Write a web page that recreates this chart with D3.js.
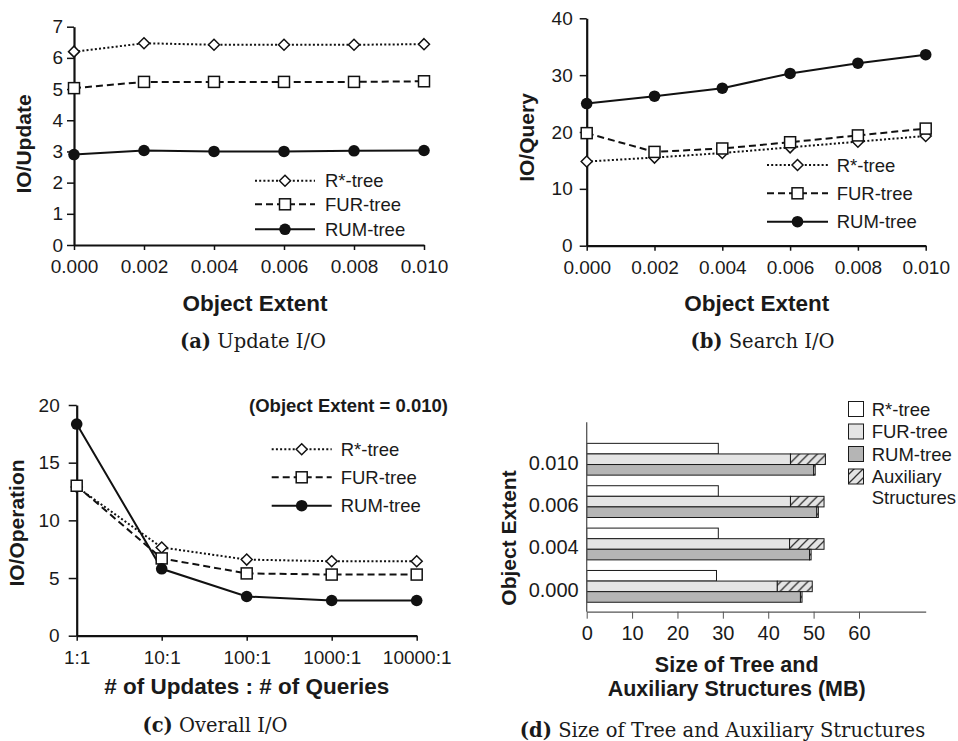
<!DOCTYPE html>
<html>
<head>
<meta charset="utf-8">
<script src="https://cdn.jsdelivr.net/npm/d3@7"></script>
<style>
  html, body { margin: 0; padding: 0; background: #fff; }
  svg { display: block; }
  text { font-family: "Liberation Sans", Arial, sans-serif; fill: #1a1a1a; }
  .cap { font-family: "DejaVu Serif", "Liberation Serif", serif; }
</style>
</head>
<body>
<svg id="chart" width="958" height="741"></svg>
<script>
// ---------------- DATA ----------------
const seriesNames = ["R*-tree", "FUR-tree", "RUM-tree"];

const extents = [0.000, 0.002, 0.004, 0.006, 0.008, 0.010];
const updateRstar = [6.20, 6.47, 6.42, 6.42, 6.42, 6.44];
const updateFur   = [5.03, 5.23, 5.23, 5.23, 5.23, 5.25];
const updateRum   = [2.90, 3.03, 3.00, 3.00, 3.02, 3.03];
const updateTicks = [0, 1, 2, 3, 4, 5, 6, 7];

const queryRstar = [14.8, 15.5, 16.3, 17.3, 18.3, 19.3];
const queryFur   = [19.8, 16.5, 17.1, 18.2, 19.4, 20.6];
const queryRum   = [25.0, 26.3, 27.7, 30.3, 32.1, 33.6];
const queryTicks = [0, 10, 20, 30, 40];

const ratios = ["1:1", "10:1", "100:1", "1000:1", "10000:1"];
const overallRstar = [12.9, 7.65, 6.6, 6.45, 6.45];
const overallFur   = [13.0, 6.7, 5.4, 5.3, 5.3];
const overallRum   = [18.35, 5.8, 3.4, 3.05, 3.05];
const overallTicks = [0, 5, 10, 15, 20];

const sizeExtents = ["0.010", "0.006", "0.004", "0.000"];
const sizeRstar   = [29.0, 29.0, 29.0, 28.6];
const sizeFurTree = [44.9, 44.9, 44.7, 42.0];
const sizeFurAux  = [7.7, 7.4, 7.6, 7.7];
const sizeRumTree = [50.0, 50.7, 49.1, 47.1];
const sizeRumAux  = [0.35, 0.35, 0.35, 0.35];
const sizeTicks   = [0, 10, 20, 30, 40, 50, 60];
const sizeLegend  = ["R*-tree", "FUR-tree", "RUM-tree", "Auxiliary", "Structures"];

// ---------------- DRAWING ----------------
const svg = d3.select("#chart");
const TICK_FS = "19px", LEG_FS = "18.5px", TITLE_FS = "22.5px", YTITLE_FS = "21px", CAP_FS = "19.5px";

const defs = svg.append("defs");
const pat = defs.append("pattern")
  .attr("id", "hatch").attr("patternUnits", "userSpaceOnUse")
  .attr("width", 9).attr("height", 9);
pat.append("rect").attr("width", 9).attr("height", 9).attr("fill", "#e4e4e4");
pat.append("path").attr("d", "M-2,11 L11,-2 M-4,4 L4,-4 M5,13 L13,5")
  .attr("stroke", "#333").attr("stroke-width", 1.3);

const styles = [
  { dash: "2,2.2", marker: "diamond" },
  { dash: "7,4", marker: "square" },
  { dash: null, marker: "circle" }
];

function drawMarker(g, type, x, y) {
  if (type === "diamond") {
    g.append("path").attr("d", `M${x},${y-5.5} L${x+5.5},${y} L${x},${y+5.5} L${x-5.5},${y} Z`)
      .attr("fill", "#fff").attr("stroke", "#111").attr("stroke-width", 1.5);
  } else if (type === "square") {
    g.append("rect").attr("x", x - 5.5).attr("y", y - 5.5).attr("width", 11).attr("height", 11)
      .attr("fill", "#fff").attr("stroke", "#111").attr("stroke-width", 1.5);
  } else {
    g.append("circle").attr("cx", x).attr("cy", y).attr("r", 5.8).attr("fill", "#111");
  }
}

function styleTicks(a, fs) {
  a.selectAll(".tick text").style("font-family", "Liberation Sans, Arial, sans-serif")
    .style("font-size", fs).attr("fill", "#1a1a1a");
}

function linePanel(cfg) {
  const g = svg.append("g");
  const x = cfg.x, y = cfg.y;
  const yAxis = d3.axisLeft(y).tickValues(cfg.yTicks).tickFormat(d3.format("d"))
    .tickSizeOuter(0).tickSizeInner(cfg.yTickSize).tickPadding(cfg.yPad);
  const xAxis = d3.axisBottom(x).tickSizeOuter(0).tickSizeInner(5).tickPadding(cfg.xPad);
  if (cfg.xTicks) xAxis.tickValues(cfg.xTicks);
  if (cfg.xFormat) xAxis.tickFormat(cfg.xFormat);
  const ya = g.append("g").attr("transform", `translate(${x.range()[0]},0)`).call(yAxis);
  const xa = g.append("g").attr("transform", `translate(0,${y.range()[0]})`).call(xAxis);
  [ya, xa].forEach(a => {
    a.select(".domain").attr("stroke", "#111").attr("stroke-width", 2.2);
    a.selectAll(".tick line").attr("stroke", "#111").attr("stroke-width", 1.5);
    styleTicks(a, TICK_FS);
  });
  cfg.series.forEach((vals, si) => {
    const st = styles[si];
    const pts = vals.map((v, i) => [x(cfg.xs[i]), y(v)]);
    g.append("path").attr("d", d3.line()(pts)).attr("fill", "none")
      .attr("stroke", "#111").attr("stroke-width", 2)
      .attr("stroke-dasharray", st.dash);
  });
  cfg.series.forEach((vals, si) => {
    const st = styles[si];
    vals.forEach((v, i) => drawMarker(g, st.marker, x(cfg.xs[i]), y(v)));
  });
  const L = cfg.legend;
  seriesNames.forEach((name, i) => {
    const ly = L.rows[i];
    g.append("line").attr("x1", L.x1).attr("x2", L.x2).attr("y1", ly).attr("y2", ly)
      .attr("stroke", "#111").attr("stroke-width", 2).attr("stroke-dasharray", styles[i].dash);
    drawMarker(g, styles[i].marker, (L.x1 + L.x2) / 2, ly);
    g.append("text").attr("x", L.tx).attr("y", ly).attr("dy", "0.36em")
      .style("font-size", LEG_FS).text(name);
  });
  g.append("text").attr("transform", `translate(${cfg.yTitle[0]},${cfg.yTitle[1]}) rotate(-90)`)
    .attr("text-anchor", "middle").attr("dy", "0.36em")
    .style("font-size", YTITLE_FS).style("font-weight", "bold").text(cfg.yTitle[2]);
  g.append("text").attr("x", cfg.xTitle[0]).attr("y", cfg.xTitle[1])
    .attr("text-anchor", "middle")
    .style("font-size", TITLE_FS).style("font-weight", "bold").text(cfg.xTitle[2]);
  return g;
}

function caption(cx, by, label, rest) {
  const t = svg.append("text").attr("class", "cap").attr("x", cx).attr("y", by)
    .attr("text-anchor", "middle").style("font-size", CAP_FS);
  t.append("tspan").style("font-weight", "bold").text(label);
  t.append("tspan").text(" " + rest);
}

const fmt3 = d3.format(".3f");

// (a) Update I/O
linePanel({
  x: d3.scaleLinear().domain([0, 0.010]).range([74, 424]),
  y: d3.scaleLinear().domain([0, 7]).range([245, 26.7]),
  xs: extents, xTicks: extents, xFormat: fmt3,
  yTicks: updateTicks, yTickSize: 7, yPad: 4, xPad: 10,
  series: [updateRstar, updateFur, updateRum],
  legend: { x1: 255, x2: 315, rows: [180.7, 204.3, 229.3], tx: 325 },
  yTitle: [23, 144, "IO/Update"],
  xTitle: [255, 311, "Object Extent"]
});
caption(253, 348, "(a)", "Update I/O");

// (b) Search I/O
linePanel({
  x: d3.scaleLinear().domain([0, 0.010]).range([586.7, 925.7]),
  y: d3.scaleLinear().domain([0, 40]).range([245.7, 18.3]),
  xs: extents, xTicks: extents, xFormat: fmt3,
  yTicks: queryTicks, yTickSize: 7, yPad: 7, xPad: 10,
  series: [queryRstar, queryFur, queryRum],
  legend: { x1: 767, x2: 828, rows: [165, 193.3, 221.7], tx: 836.7 },
  yTitle: [526.5, 137.5, "IO/Query"],
  xTitle: [756.7, 311, "Object Extent"]
});
caption(762.5, 348, "(b)", "Search I/O");

// (c) Overall I/O
const gc = linePanel({
  x: d3.scalePoint().domain(ratios).range([76.7, 416.7]),
  y: d3.scaleLinear().domain([0, 20]).range([635.7, 405]),
  xs: ratios,
  yTicks: overallTicks, yTickSize: 8, yPad: 9, xPad: 10,
  series: [overallRstar, overallFur, overallRum],
  legend: { x1: 271.7, x2: 331.7, rows: [449.3, 477.3, 505.7], tx: 340.7 },
  yTitle: [16, 523, "IO/Operation"],
  xTitle: [246.7, 694, "# of Updates : # of Queries"]
});
gc.append("text").attr("x", 448).attr("y", 411.5).attr("text-anchor", "end")
  .style("font-size", "18.5px").style("font-weight", "bold").text("(Object Extent = 0.010)");
caption(215, 731.7, "(c)", "Overall I/O");

// (d) Size of Tree and Auxiliary Structures
(function () {
  const g = svg.append("g");
  const x = d3.scaleLinear().domain([0, 74.7]).range([586.7, 925.7]);
  const y0 = d3.scaleBand().domain(sizeExtents).range([433.9, 611.7])
    .paddingInner(0.25).paddingOuter(0.223);
  const y1 = d3.scaleBand().domain([0, 1, 2]).range([0, y0.bandwidth()]);
  const axisColor = "#555";

  const groups = g.selectAll("g.grp").data(sizeExtents).join("g")
    .attr("transform", d => `translate(0,${y0(d)})`);
  groups.each(function (d, i) {
    const gg = d3.select(this);
    const h = y1.bandwidth();
    const bars = [
      { y: y1(0), x0: 0, x1: sizeRstar[i], fill: "#ffffff" },
      { y: y1(1), x0: 0, x1: sizeFurTree[i], fill: "#e4e4e4" },
      { y: y1(1), x0: sizeFurTree[i], x1: sizeFurTree[i] + sizeFurAux[i], fill: "url(#hatch)" },
      { y: y1(2), x0: 0, x1: sizeRumTree[i], fill: "#b5b5b5" },
      { y: y1(2), x0: sizeRumTree[i], x1: sizeRumTree[i] + sizeRumAux[i], fill: "url(#hatch)" }
    ];
    bars.forEach(b => {
      gg.append("rect").attr("x", x(b.x0)).attr("y", b.y)
        .attr("width", x(b.x1) - x(b.x0)).attr("height", h)
        .attr("fill", b.fill).attr("stroke", "#1a1a1a").attr("stroke-width", 1);
    });
  });

  g.append("line").attr("x1", x(0)).attr("x2", x(0)).attr("y1", 422.3).attr("y2", 611.7)
    .attr("stroke", axisColor).attr("stroke-width", 1.3);
  const xa = g.append("g").attr("transform", "translate(0,611.7)")
    .call(d3.axisBottom(x).tickValues(sizeTicks).tickSizeOuter(0).tickSizeInner(7).tickPadding(7));
  xa.select(".domain").attr("stroke", axisColor).attr("stroke-width", 1.3);
  xa.selectAll(".tick line").attr("stroke", axisColor).attr("stroke-width", 1);
  styleTicks(xa, "20px");
  const ya = g.append("g").attr("transform", `translate(${x(0)},0)`)
    .call(d3.axisLeft(y0).tickSize(0).tickPadding(8));
  ya.select(".domain").remove();
  styleTicks(ya, "20px");
  ya.selectAll(".tick text").attr("dy", "0.52em");

  g.append("text").attr("transform", "translate(508,538) rotate(-90)")
    .attr("text-anchor", "middle").attr("dy", "0.36em")
    .style("font-size", YTITLE_FS).style("font-weight", "bold").text("Object Extent");
  g.append("text").attr("x", 736.7).attr("y", 671.7).attr("text-anchor", "middle")
    .style("font-size", "21.5px").style("font-weight", "bold").text("Size of Tree and");
  g.append("text").attr("x", 736.7).attr("y", 695.5).attr("text-anchor", "middle")
    .style("font-size", "21.5px").style("font-weight", "bold").text("Auxiliary Structures (MB)");

  const fills = ["#ffffff", "#e4e4e4", "#b5b5b5", "url(#hatch)"];
  const rowsY = [401.5, 424, 446.5, 469];
  fills.forEach((f, i) => {
    g.append("rect").attr("x", 848.5).attr("y", rowsY[i]).attr("width", 15).attr("height", 15)
      .attr("fill", f).attr("stroke", "#1a1a1a").attr("stroke-width", 1);
    g.append("text").attr("x", 871.7).attr("y", rowsY[i] + 7.5).attr("dy", "0.36em")
      .style("font-size", LEG_FS).text(sizeLegend[i]);
  });
  g.append("text").attr("x", 871.7).attr("y", rowsY[3] + 7.5 + 21).attr("dy", "0.36em")
    .style("font-size", LEG_FS).text(sizeLegend[4]);
})();
caption(722.5, 736.7, "(d)", "Size of Tree and Auxiliary Structures");
</script>
</body>
</html>
